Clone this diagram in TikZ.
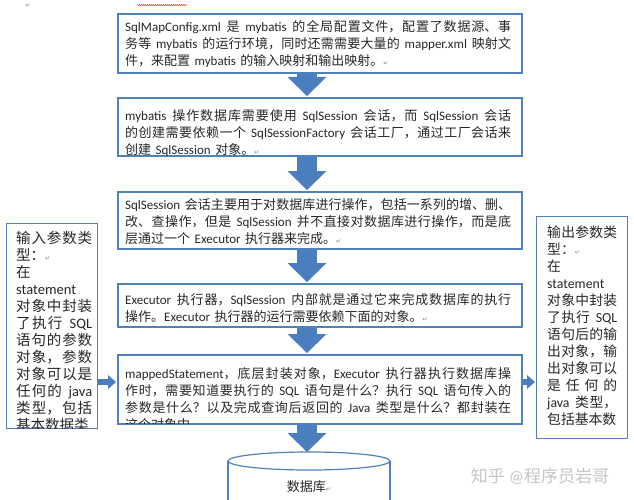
\documentclass[tikz,border=0pt]{standalone}
\usepackage{fontspec}
\setmainfont{Carlito}
\newfontfamily\cjkfont{Noto Sans CJK SC}
\newfontfamily\latfont{Carlito}
\newfontfamily\dvfont{DejaVu Sans}
\usetikzlibrary{arrows.meta,decorations.pathmorphing}
\XeTeXlinebreaklocale "zh"
\XeTeXlinebreakskip=0pt plus 2pt minus 0.4pt
\newXeTeXintercharclass\cjkclass
\newcount\cjkcnt
\newcommand\setcjkrange[2]{\cjkcnt=#1\relax
  \loop\XeTeXcharclass\cjkcnt=\cjkclass\relax
  \ifnum\cjkcnt<#2\advance\cjkcnt by 1\repeat}
\setcjkrange{"3000}{"303F}
\setcjkrange{"4E00}{"9FFF}
\setcjkrange{"FF00}{"FFEF}
\XeTeXinterchartoks 0 \cjkclass = {\cjkfont}
\XeTeXinterchartoks 4095 \cjkclass = {\cjkfont}
\XeTeXinterchartoks \cjkclass 0 = {\latfont}
\XeTeXinterchartoks \cjkclass 4095 = {\latfont}
\XeTeXinterchartokenstate=1
\definecolor{boxblue}{RGB}{79,129,189}
\definecolor{arrowblue}{RGB}{74,126,190}
\definecolor{txtcol}{RGB}{40,40,40}
\newcommand\retmark{{\dvfont\fontsize{6}{6}\selectfont\textcolor{gray}{↵}}}
\begin{document}
\begin{tikzpicture}[x=1pt,y=-1pt,
  box/.style={draw=boxblue, line width=1.6pt, fill=white, inner sep=0pt, minimum width=404pt, anchor=north west},
  side/.style={draw=boxblue, line width=1.4pt, fill=white, inner sep=0pt, minimum width=91pt, anchor=north west},
  txt/.style={anchor=north west, inner sep=0pt, align=justify, text=txtcol, text width=386pt,
    font={\fontsize{13}{17}\selectfont\tolerance=9999\spaceskip=4.5pt plus 3pt minus 1.5pt}},
  sidetxt/.style={anchor=north west, inner sep=0pt, align=justify, text=txtcol,
    font={\fontsize{#1}{17}\selectfont\tolerance=9999\spaceskip=4.5pt plus 4pt minus 1.5pt}},
  bigarrow/.style={draw=arrowblue, line width=20pt, -{Triangle[width=39pt,length=19pt,line width=0pt]}},
  smallarrow/.style={draw=arrowblue, line width=6pt, -{Triangle[width=14pt,length=8pt,line width=0pt]}},
  cyl/.style={draw=boxblue, line width=1.2pt}
]
\clip (0,0) rectangle (634,500);
\fill[white] (0,0) rectangle (634,500);
% boxes
\node[box, minimum height=59pt] (b1) at (117,13) {};
\node[box, minimum height=58pt] (b2) at (117,97) {};
\node[box, minimum height=57pt] (b3) at (117,191) {};
\node[box, minimum height=43pt] (b4) at (117,283) {};
\node[box, minimum height=69pt] (b5) at (117,354) {};
\node[side, minimum height=205pt] (L) at (6,223) {};
\node[side, minimum height=222pt] (R) at (536,216) {};
% texts
\begin{scope}
\clip ([shift={(1,1)}]b1.north west) rectangle ([shift={(-1,-1)}]b1.south east);
\node[txt] (t1) at (125,20) {SqlMapConfig.xml 是 mybatis 的全局配置文件，配置了数据源、事\break 务等 mybatis 的运行环境，同时还需需要大量的 mapper.xml 映射文\break 件，来配置 mybatis 的输入映射和输出映射。\retmark};
\end{scope}
\begin{scope}
\clip ([shift={(1,1)}]b2.north west) rectangle ([shift={(-1,-1)}]b2.south east);
\node[txt] (t2) at (125,109.5) {mybatis 操作数据库需要使用 SqlSession 会话，而 SqlSession 会话\break 的创建需要依赖一个 SqlSessionFactory 会话工厂，通过工厂会话来\break 创建 SqlSession 对象。\retmark};
\end{scope}
\begin{scope}
\clip ([shift={(1,1)}]b3.north west) rectangle ([shift={(-1,-1)}]b3.south east);
\node[txt] (t3) at (125,198.7) {SqlSession 会话主要用于对数据库进行操作，包括一系列的增、删、\break 改、查操作，但是 SqlSession 并不直接对数据库进行操作，而是底\break 层通过一个 Executor 执行器来完成。\retmark};
\end{scope}
\begin{scope}
\clip ([shift={(1,1)}]b4.north west) rectangle ([shift={(-1,-1)}]b4.south east);
\node[txt] (t4) at (125,293.7) {Executor 执行器，SqlSession 内部就是通过它来完成数据库的执行\break 操作。Executor 执行器的运行需要依赖下面的对象。\retmark};
\end{scope}
\begin{scope}
\clip ([shift={(1,1)}]b5.north west) rectangle ([shift={(-1,-1)}]b5.south east);
\node[txt] (t5) at (125,367.5) {mappedStatement，底层封装对象，Executor 执行器执行数据库操\break 作时，需要知道要执行的 SQL 语句是什么？执行 SQL 语句传入的\break 参数是什么？以及完成查询后返回的 Java 类型是什么？都封装在\break 这个对象中};
\end{scope}
\begin{scope}
\clip ([shift={(1,1)}]L.north west) rectangle ([shift={(-1,-1)}]L.south east);
\node[sidetxt=14.5, text width=76pt] (tl) at (16,231) {输入参数类\break 型：\retmark\hfil\break 在\hfil\break statement\hfil\break 对象中封装\break 了执行 SQL\break 语句的参数\break 对象，参数\break 对象可以是\break 任何的 java\break 类型，包括\break 基本数据类};
\end{scope}
\begin{scope}
\clip ([shift={(1,1)}]R.north west) rectangle ([shift={(-1,-1)}]R.south east);
\node[sidetxt=13.8, text width=70pt] (tr) at (547,225.3) {输出参数类\break 型：\retmark\hfil\break 在\hfil\break statement\hfil\break 对象中封装\break 了执行 SQL\break 语句后的输\break 出对象，输\break 出对象可以\break 是任何的\break java 类型，\break 包括基本数};
\end{scope}
% database cylinder
\coordinate (dbtop) at (307,452);
\fill[white] (228,461) -- (228,506) -- (390,506) -- (390,461) -- cycle;
\draw[cyl] (228,461) -- (228,506);
\draw[cyl] (390,461) -- (390,506);
\draw[cyl, fill=white] (309,461) ellipse [x radius=81, y radius=9];
\node[font=\fontsize{13}{15}\selectfont, text=txtcol] (db) at (309,487) {数据库\retmark};
% arrows
\coordinate (ax) at (307,0);
\coordinate (ay) at (0,382);
\draw[bigarrow] (b1.south -| ax) -- ([yshift=1pt]b2.north -| ax);
\draw[bigarrow] (b2.south -| ax) -- ([yshift=1pt]b3.north -| ax);
\draw[bigarrow] (b3.south -| ax) -- ([yshift=1pt]b4.north -| ax);
\draw[bigarrow] (b4.south -| ax) -- ([yshift=1pt]b5.north -| ax);
\draw[bigarrow] (b5.south -| ax) -- (dbtop);
\draw[smallarrow] (L.east |- ay) -- ([xshift=-1pt]b5.west |- ay);
\draw[smallarrow] (b5.east |- ay) -- ([xshift=-1pt]R.west |- ay);
% marks
\node[font=\dvfont\fontsize{6}{6}\selectfont, text=gray] (pm) at (28,6) {↵};
\draw[red!80, line width=0.5pt, decorate, decoration={snake, amplitude=0.6pt, segment length=2pt}] (137,5) -- (187,5);
\node[text=gray!45, font=\fontsize{17}{17}\selectfont] (wm) at (540,476) {知乎 @程序员岩哥};
\end{tikzpicture}
\end{document}
